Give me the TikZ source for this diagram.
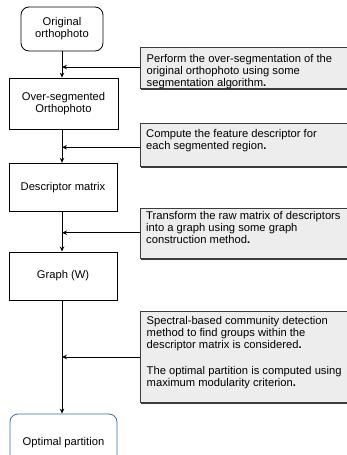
\documentclass[tikz,border=0pt]{standalone}
\usepackage{fontspec}
\setmainfont{Liberation Sans}
\usetikzlibrary{arrows.meta}
\definecolor{notefill}{RGB}{237,237,237}
\definecolor{noteline}{RGB}{60,60,60}
\definecolor{blueline}{RGB}{58,108,168}
\begin{document}
\begin{tikzpicture}[x=1pt,y=-1pt,
  every node/.style={font=\fontsize{11.2}{12}\selectfont},
  stepbox/.style={draw=black, line width=0.8pt, inner sep=0pt},
  notebox/.style={draw=noteline, fill=notefill, line width=0.8pt, inner sep=0pt},
  shadowbox/.style={fill=noteline, draw=none, inner sep=0pt},
  notetext/.style={anchor=north west, align=left, inner sep=0pt},
  flow/.style={line width=0.8pt, -{Stealth[length=5pt,width=4.5pt]}}]
\clip (0,0) rectangle (347,455);
\fill[white] (0,0) rectangle (347,455);
% main boxes
\node[stepbox, rounded corners=8pt, minimum width=82pt, minimum height=44pt, align=center] (orig) at (62,29) {Original\\orthophoto};
\node[stepbox, minimum width=109pt, minimum height=51pt, align=center] (over) at (63.5,103.5) {Over-segmented\\Orthophoto};
\node[stepbox, minimum width=108pt, minimum height=48pt] (desc) at (63,187.2) {Descriptor matrix};
\node[stepbox, minimum width=108pt, minimum height=48pt] (graph) at (63,275.9) {Graph (W)};
\node[draw=blueline, line width=0.8pt, rounded corners=8pt, inner sep=0pt, minimum width=107pt, minimum height=56pt] (opt) at (63.5,442) {};
\node (optt) at (63.5,443) {Optimal partition};
% note boxes
\node[shadowbox, minimum width=212pt, minimum height=41pt] at (247,69) {};
\node[notebox, minimum width=212pt, minimum height=41pt] (n1) at (246,67.5) {};
\node[shadowbox, minimum width=212pt, minimum height=43pt] at (247,146.5) {};
\node[notebox, minimum width=212pt, minimum height=43pt] (n2) at (246,145) {};
\node[shadowbox, minimum width=212pt, minimum height=50pt] at (247,234.7) {};
\node[notebox, minimum width=212pt, minimum height=50pt] (n3) at (246,233.2) {};
\node[shadowbox, minimum width=212pt, minimum height=91pt] at (247,358.8) {};
\node[notebox, minimum width=212pt, minimum height=91pt] (n4) at (246,357.3) {};
% note texts
\node[notetext] (t1) at (146.5,54) {Perform the over-segmentation of the\\original orthophoto using some\\segmentation algorithm{\bfseries .}};
\node[notetext] (t2) at (146,129.6) {Compute the feature descriptor for\\each segmented region{\bfseries .}};
\node[notetext] (t3) at (146,210.8) {Transform the raw matrix of descriptors\\into a graph using some graph\\construction method{\bfseries .}};
\node[notetext] (t4) at (146.5,316) {Spectral-based community detection\\method to find groups within the\\descriptor matrix is considered{\bfseries .}\\[14pt]The optimal partition is computed using\\maximum modularity criterion{\bfseries .}};
% trunk coordinates
\coordinate (a1) at (62,67);
\coordinate (a2) at (62,147.3);
\coordinate (a3) at (62,232.7);
\coordinate (a4) at (62,357);
% vertical connectors
\draw[flow] (orig.south -| a1) -- (over.north -| a1);
\draw[flow] (over.south -| a2) -- (desc.north -| a2);
\draw[flow] (desc.south -| a3) -- (graph.north -| a3);
\draw[flow] (graph.south -| a4) -- (opt.north -| a4);
% horizontal connectors
\draw[flow] (n1.west |- a1) -- (a1);
\draw[flow] (n2.west |- a2) -- (a2);
\draw[flow] (n3.west |- a3) -- (a3);
\draw[flow] (n4.west |- a4) -- (a4);
\end{tikzpicture}
\end{document}
